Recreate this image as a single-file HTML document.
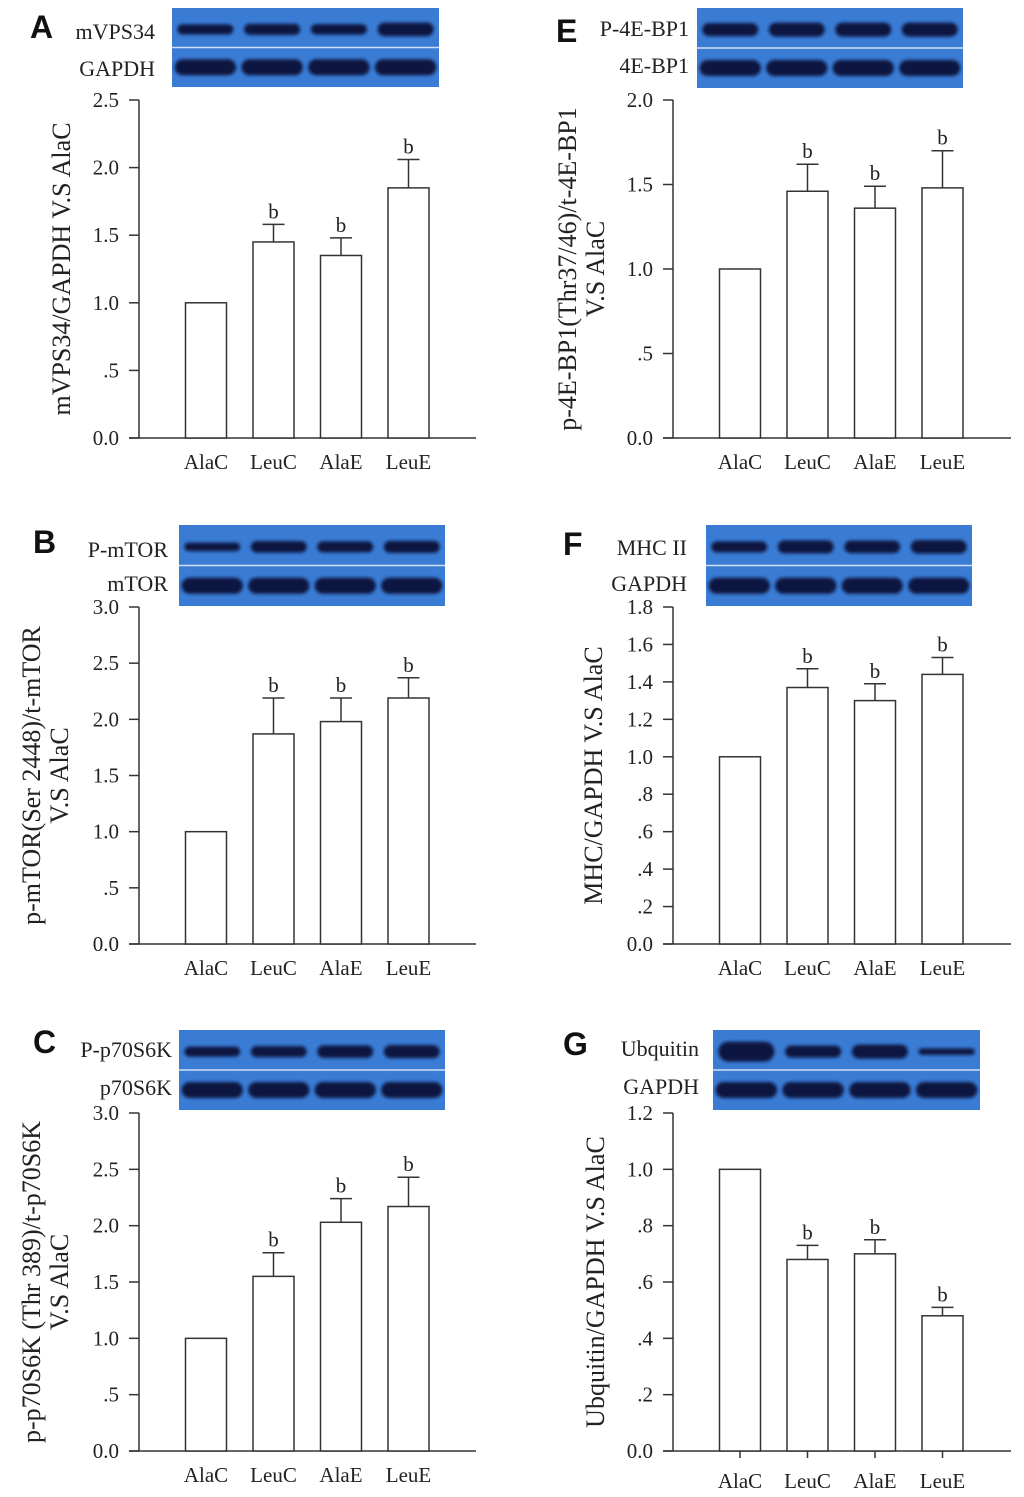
<!DOCTYPE html>
<html><head><meta charset="utf-8">
<style>
html,body{margin:0;padding:0;background:#fff;}
svg{display:block;}
text{font-family:"Liberation Serif",serif;fill:#222;}
.let{font-family:"Liberation Sans",sans-serif;font-weight:bold;fill:#111;}
</style></head>
<body>
<svg id="fig" width="1024" height="1497" viewBox="0 0 1024 1497" xmlns="http://www.w3.org/2000/svg">
<defs><filter id="blur" x="-20%" y="-50%" width="140%" height="200%"><feGaussianBlur stdDeviation="1.6"/></filter></defs>
</svg>
<script>
const categories = ["AlaC","LeuC","AlaE","LeuE"];
const valuesA = [1.0, 1.45, 1.35, 1.85];
const errorsA = [0, 0.13, 0.13, 0.21];
const valuesB = [1.0, 1.87, 1.98, 2.19];
const errorsB = [0, 0.32, 0.21, 0.18];
const valuesC = [1.0, 1.55, 2.03, 2.17];
const errorsC = [0, 0.21, 0.21, 0.26];
const valuesE = [1.0, 1.46, 1.36, 1.48];
const errorsE = [0, 0.16, 0.13, 0.22];
const valuesF = [1.0, 1.37, 1.30, 1.44];
const errorsF = [0, 0.10, 0.09, 0.09];
const valuesG = [1.0, 0.68, 0.70, 0.48];
const errorsG = [0, 0.05, 0.05, 0.03];
const ticksA = ["0.0",".5","1.0","1.5","2.0","2.5"];
const ticksB = ["0.0",".5","1.0","1.5","2.0","2.5","3.0"];
const ticksC = ["0.0",".5","1.0","1.5","2.0","2.5","3.0"];
const ticksE = ["0.0",".5","1.0","1.5","2.0"];
const ticksF = ["0.0",".2",".4",".6",".8","1.0","1.2","1.4","1.6","1.8"];
const ticksG = ["0.0",".2",".4",".6",".8","1.0","1.2"];
const sigLabels = ["","b","b","b"];
const bandTop = {A:[0.5,0.6,0.55,0.85],B:[0.35,0.65,0.6,0.7],C:[0.5,0.6,0.75,0.8],E:[0.8,0.9,0.9,0.9],F:[0.6,0.8,0.75,0.85],G:[1.5,0.7,0.9,0.15]};

const NS="http://www.w3.org/2000/svg";
const svg=document.getElementById('fig');
function mk(tag,attrs,parent){const e=document.createElementNS(NS,tag);for(const k in attrs)e.setAttribute(k,attrs[k]);(parent||svg).appendChild(e);return e;}

const panels=[
 {id:'A',vals:valuesA,errs:errorsA,ticks:ticksA,max:2.5,ax:139,top:100,bot:438,xend:476,
  blot:[172,8,267,79],lab1:"mVPS34",lab2:"GAPDH",labx:155,ly1:39,ly2:76,letter:[30,38],
  ylab:["mVPS34/GAPDH V.S AlaC"],ylx:[70],ticksBottom:false},
 {id:'B',vals:valuesB,errs:errorsB,ticks:ticksB,max:3.0,ax:139,top:607,bot:944,xend:476,
  blot:[179,525,266,81],lab1:"P-mTOR",lab2:"mTOR",labx:168,ly1:557,ly2:591,letter:[33,553],
  ylab:["p-mTOR(Ser 2448)/t-mTOR","V.S AlaC"],ylx:[40,68],ticksBottom:false},
 {id:'C',vals:valuesC,errs:errorsC,ticks:ticksC,max:3.0,ax:139,top:1113,bot:1451,xend:476,
  blot:[179,1030,266,80],lab1:"P-p70S6K",lab2:"p70S6K",labx:172,ly1:1057,ly2:1095,letter:[33,1053],
  ylab:["p-p70S6K (Thr 389)/t-p70S6K","V.S AlaC"],ylx:[40,68],ticksBottom:false},
 {id:'E',vals:valuesE,errs:errorsE,ticks:ticksE,max:2.0,ax:673,top:100,bot:438,xend:1011,
  blot:[697,8,266,80],lab1:"P-4E-BP1",lab2:"4E-BP1",labx:689,ly1:36,ly2:73,letter:[556,42],
  ylab:["p-4E-BP1(Thr37/46)/t-4E-BP1","V.S AlaC"],ylx:[576,604],ticksBottom:false},
 {id:'F',vals:valuesF,errs:errorsF,ticks:ticksF,max:1.8,ax:673,top:607,bot:944,xend:1011,
  blot:[706,525,266,81],lab1:"MHC II",lab2:"GAPDH",labx:687,ly1:555,ly2:591,letter:[563,555],
  ylab:["MHC/GAPDH V.S AlaC"],ylx:[602],ticksBottom:false},
 {id:'G',vals:valuesG,errs:errorsG,ticks:ticksG,max:1.2,ax:673,top:1113,bot:1451,xend:1011,
  blot:[713,1030,267,80],lab1:"Ubquitin",lab2:"GAPDH",labx:699,ly1:1056,ly2:1094,letter:[563,1055],
  ylab:["Ubquitin/GAPDH V.S AlaC"],ylx:[604],ticksBottom:true}
];

panels.forEach(p=>{
  const g=mk('g',{});
  
  
  const y=v=>p.bot-(v/p.max)*(p.bot-p.top);
  const x=i=>p.ax+67+i*67.5;
  const L=mk('text',{x:p.letter[0],y:p.letter[1],'font-size':32,class:'let'},g);L.textContent=p.id;
  
  
  const [bx,by,bw,bh]=p.blot;
  const bg=mk('g',{},g);
  
  
  mk('rect',{x:bx,y:by,width:bw,height:bh,fill:'#3a7cd4'},bg);
  mk('line',{x1:bx,x2:bx+bw,y1:by+bh/2,y2:by+bh/2,stroke:'#cfe0f5','stroke-width':1.5},bg);
  const bt=bandTop[p.id];
  for(let i=0;i<4;i++){
    const cx=bx+bw*(0.125+0.25*i);
    const h1=5+bt[i]*10;
    mk('rect',{x:cx-bw*0.105,y:by+bh*0.27-h1/2,width:bw*0.21,height:h1,rx:h1/2,fill:'#0e1640',filter:'url(#blur)'},bg);
    mk('rect',{x:cx-bw*0.115,y:by+bh*0.75-8,width:bw*0.23,height:16,rx:8,fill:'#0e1640',filter:'url(#blur)'},bg);
  }
  const t1=mk('text',{x:p.labx,y:p.ly1,'font-size':22,'text-anchor':'end'},g);t1.textContent=p.lab1;
  
  
  const t2=mk('text',{x:p.labx,y:p.ly2,'font-size':22,'text-anchor':'end'},g);t2.textContent=p.lab2;
  
  
  const ya=mk('line',{x1:p.ax,x2:p.ax,y1:p.top,y2:p.bot,stroke:'#333','stroke-width':1.5},g);
  
  
  const xa=mk('line',{x1:p.ax-10,x2:p.xend,y1:p.bot,y2:p.bot,stroke:'#333','stroke-width':1.5},g);
  
  
  p.ticks.forEach((t,i)=>{
    const v=i*p.max/(p.ticks.length-1);const yy=y(v);
    mk('line',{x1:p.ax-10,x2:p.ax,y1:yy,y2:yy,stroke:'#333','stroke-width':1.5},g);
    const tt=mk('text',{x:p.ax-20,y:yy+7,'font-size':21,'text-anchor':'end'},g);tt.textContent=t;
    
    
  });
  categories.forEach((c,i)=>{
    const cx=x(i),v=p.vals[i],e=p.errs[i];
    const r=mk('rect',{x:cx-20.5,y:y(v),width:41,height:p.bot-y(v),fill:'#fff',stroke:'#333','stroke-width':1.5},g);
    
    
    if(e>0){
      mk('line',{x1:cx,x2:cx,y1:y(v),y2:y(v+e),stroke:'#333','stroke-width':1.5},g);
      mk('line',{x1:cx-11,x2:cx+11,y1:y(v+e),y2:y(v+e),stroke:'#333','stroke-width':1.5},g);
    }
    if(sigLabels[i]){
      const s=mk('text',{x:cx,y:y(v+e)-6,'font-size':21,'text-anchor':'middle'},g);s.textContent=sigLabels[i];
      
      
    }
    if(p.ticksBottom) mk('line',{x1:cx,x2:cx,y1:p.bot,y2:p.bot+7,stroke:'#333','stroke-width':1.5},g);
    const xl=mk('text',{x:cx,y:p.bot+(p.ticksBottom?37:31),'font-size':21,'text-anchor':'middle'},g);xl.textContent=c;
    
    
  });
  const cy=(p.top+p.bot)/2;
  p.ylab.forEach((l,k)=>{
    const t=mk('text',{x:p.ylx[k],y:cy,'font-size':26,'text-anchor':'middle',transform:`rotate(-90 ${p.ylx[k]} ${cy})`},g);
    t.textContent=l;
    
    
  });
});
</script>
</body></html>
